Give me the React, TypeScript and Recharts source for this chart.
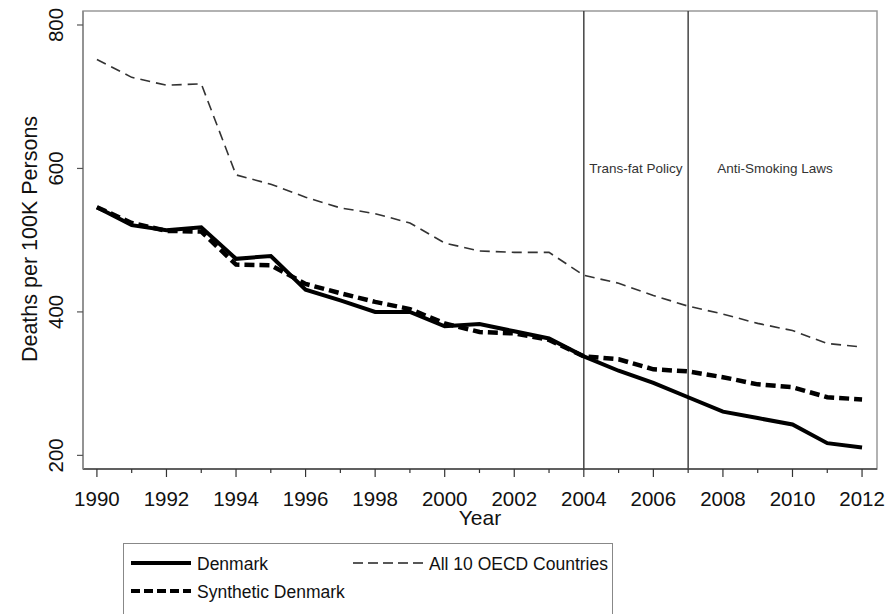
import React from 'react';
import { LineChart, Line, XAxis, YAxis, ReferenceLine, ReferenceArea } from 'recharts';

// values (deaths per 100K persons)
const years = [1990, 1991, 1992, 1993, 1994, 1995, 1996, 1997, 1998, 1999, 2000, 2001, 2002, 2003, 2004, 2005, 2006, 2007, 2008, 2009, 2010, 2011, 2012];
const denmark = [546, 521, 514, 518, 474, 478, 431, 416, 400, 400, 380, 383, 373, 363, 338, 318, 301, 281, 261, 252, 243, 217, 211];
const syntheticDenmark = [546, 524, 513, 512, 466, 465, 439, 426, 414, 404, 384, 372, 370, 361, 338, 334, 320, 317, 309, 299, 295, 281, 278];
const oecd = [752, 727, 716, 718, 591, 578, 560, 545, 537, 524, 496, 485, 483, 483, 451, 440, 423, 408, 397, 384, 374, 356, 351];

const yTicks = [200, 400, 600, 800];
const policyYears = [2004, 2007];

const X_DOMAIN: [number, number] = [1989.6, 2012.43];
const Y_DOMAIN: [number, number] = [181, 819.5];

const FONT = "'Liberation Sans', Arial, sans-serif";

const data = years.map((year, i) => ({
  year,
  denmark: denmark[i],
  synthetic: syntheticDenmark[i],
  oecd: oecd[i],
}));

const YearTick = ({ x, y, payload }: any) => {
  const major = payload.value % 2 === 0;
  return (
    <g>
      <line x1={x} y1={y} x2={x} y2={y + (major ? 8 : 4)} stroke="#333" strokeWidth={1.2} />
      {major && (
        <text x={x} y={y + 37} textAnchor="middle" fontSize={20.5} fontFamily={FONT} fill="#111">
          {payload.value}
        </text>
      )}
    </g>
  );
};

const DeathTick = ({ x, y, payload }: any) => (
  <g>
    <line x1={x - 6} y1={y} x2={x} y2={y} stroke="#555" strokeWidth={1.2} />
    <text
      transform={`translate(${x - 20},${y}) rotate(-90)`}
      textAnchor="middle"
      fontSize={20.5}
      fontFamily={FONT}
      fill="#111"
    >
      {payload.value}
    </text>
  </g>
);

const YTitle = ({ viewBox }: any) => {
  const cy = viewBox.y + viewBox.height / 2 - 1;
  return (
    <text transform={`translate(37,${cy}) rotate(-90)`} textAnchor="middle" fontSize={21.5} fontFamily={FONT} fill="#111">
      Deaths per 100K Persons
    </text>
  );
};

const XTitle = ({ viewBox }: any) => (
  <text x={viewBox.x + viewBox.width / 2} y={viewBox.y + 56} textAnchor="middle" fontSize={21} fontFamily={FONT} fill="#111">
    Year
  </text>
);

const LegendBox = () => {
  const textStyle: React.CSSProperties = { position: 'absolute', fontSize: 17.5, fontFamily: FONT, color: '#111', lineHeight: '20px' };
  return (
    <div style={{ position: 'absolute', left: 123, top: 543, width: 488, height: 80, border: '1px solid #888', background: '#fff' }}>
      <svg style={{ position: 'absolute', left: 0, top: 0 }} width={488} height={80}>
        <line x1={7} y1={19} x2={67} y2={19} stroke="#000" strokeWidth={4} />
        <line x1={7} y1={47} x2={67} y2={47} stroke="#000" strokeWidth={4} strokeDasharray="9 4" />
        <line x1={229} y1={19} x2={299} y2={19} stroke="#222" strokeWidth={1.4} strokeDasharray="10 5" />
      </svg>
      <span style={{ ...textStyle, left: 73, top: 10 }}>Denmark</span>
      <span style={{ ...textStyle, left: 73, top: 38 }}>Synthetic Denmark</span>
      <span style={{ ...textStyle, left: 305, top: 10 }}>All 10 OECD Countries</span>
    </div>
  );
};

export default function App() {
  return (
    <div style={{ position: 'absolute', left: 0, top: 0, width: 890, height: 614, background: '#fff' }}>
      <LineChart width={890} height={614} data={data} margin={{ top: 11, right: 13, bottom: 115, left: 0 }}>
        <ReferenceArea x1={X_DOMAIN[0]} x2={X_DOMAIN[1]} y1={Y_DOMAIN[0]} y2={Y_DOMAIN[1]} fill="none" stroke="#999" strokeWidth={1.5} />
        <XAxis
          dataKey="year"
          type="number"
          domain={X_DOMAIN}
          ticks={years}
          interval={0}
          allowDataOverflow
          height={30}
          tickSize={0}
          tickMargin={0}
          tickLine={false}
          tick={<YearTick />}
          axisLine={{ stroke: '#444', strokeWidth: 1.5 }}
          label={<XTitle />}
        />
        <YAxis
          type="number"
          domain={Y_DOMAIN}
          ticks={yTicks}
          allowDataOverflow
          width={83}
          tickSize={0}
          tickMargin={0}
          tickLine={false}
          tick={<DeathTick />}
          axisLine={{ stroke: '#888', strokeWidth: 1.5 }}
          label={<YTitle />}
        />
        {policyYears.map((yr) => (
          <ReferenceLine key={yr} x={yr} stroke="#444" strokeWidth={1.5} />
        ))}
        <ReferenceArea
          x1={2004}
          x2={2007}
          y1={590}
          y2={610}
          fill="none"
          stroke="none"
          label={{ value: 'Trans-fat Policy', position: 'center', fontSize: 13.5, fill: '#333', fontFamily: FONT }}
        />
        <ReferenceArea
          x1={2007}
          x2={2012}
          y1={590}
          y2={610}
          fill="none"
          stroke="none"
          label={{ value: 'Anti-Smoking Laws', position: 'center', fontSize: 13.5, fill: '#333', fontFamily: FONT }}
        />
        <Line dataKey="oecd" stroke="#333" strokeWidth={1.6} strokeDasharray="10 6" dot={false} isAnimationActive={false} />
        <Line dataKey="synthetic" stroke="#000" strokeWidth={4.5} strokeDasharray="10 5" dot={false} isAnimationActive={false} />
        <Line dataKey="denmark" stroke="#000" strokeWidth={4} dot={false} isAnimationActive={false} />
      </LineChart>
      <LegendBox />
    </div>
  );
}
